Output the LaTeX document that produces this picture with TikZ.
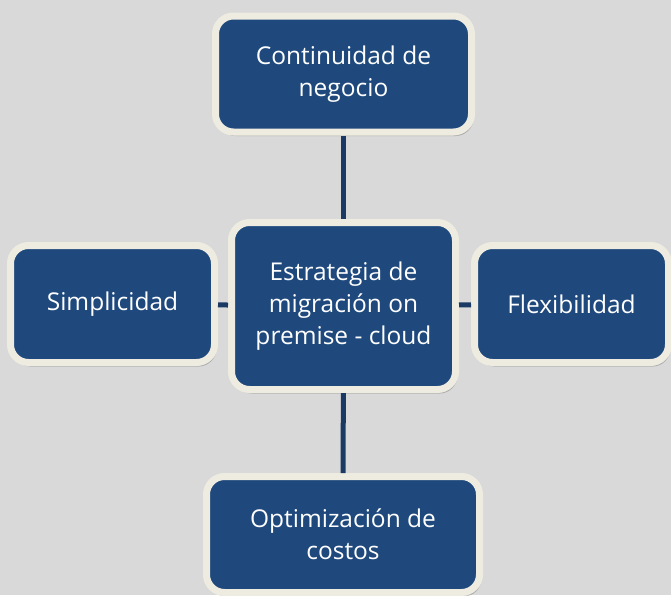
\documentclass[tikz,border=0pt]{standalone}
\usepackage{fontspec}
\setmainfont{Open Sans}
\usetikzlibrary{positioning}
\usetikzlibrary{shadows}
\definecolor{boxBlue}{HTML}{1F497D}
\definecolor{boxCream}{HTML}{EEECE1}
\definecolor{linkBlue}{HTML}{1B3A63}
\definecolor{pageGray}{HTML}{D9D9D9}
\tikzset{
    objRoundBox/.style={rectangle, rounded corners=18pt, fill=boxBlue, draw=boxCream, line width=7pt, text=white, align=center, inner sep=0pt, font=\fontsize{24.5}{32}\selectfont, drop shadow={shadow xshift=2pt, shadow yshift=-4pt, opacity=0.4, fill=black!60}},
    link/.style={draw=linkBlue, line width=5pt}
}
\begin{document}
\begin{tikzpicture}[x=1pt, y=-1pt]
  \fill[pageGray] (0,0) rectangle (671,595);
  \useasboundingbox (0,0) rectangle (671,595);

  \node (centre) [objRoundBox, minimum width=224pt, minimum height=167pt] at (343.5,306) {Estrategia de\\migración on\\premise - cloud};
  \node (cont) [objRoundBox, minimum width=256pt, minimum height=116pt] at (343.5,74) {Continuidad de\\negocio};
  \node (simp) [objRoundBox, minimum width=204pt, minimum height=117pt] at (112.5,304) {Simplicidad};
  \node (flex) [objRoundBox, minimum width=194pt, minimum height=117pt] at (571.5,304) {Flexibilidad};
  \node (opt) [objRoundBox, minimum width=273pt, minimum height=116pt] at (343,534.5) {Optimización de\\costos};

  \draw[link] (cont) -- (centre);
  \draw[link] (centre) -- (opt);
  \draw[link] (simp) -- (centre);
  \draw[link] (centre) -- (flex);
\end{tikzpicture}
\end{document}
